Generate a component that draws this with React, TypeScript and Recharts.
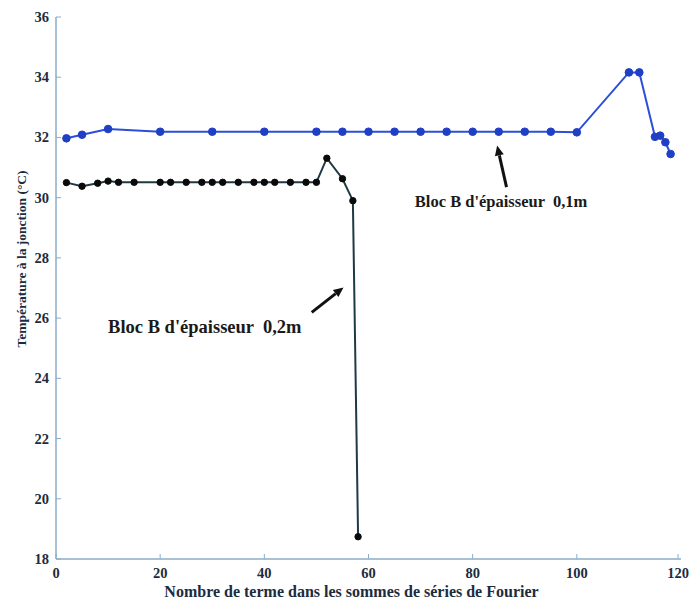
import React from 'react';
import { LineChart, Line, XAxis, YAxis, ReferenceLine, ReferenceDot } from 'recharts';

const xTicks = [0, 20, 40, 60, 80, 100, 120];
const yTicks = [18, 20, 22, 24, 26, 28, 30, 32, 34, 36];

// Bloc B d'épaisseur 0,1m (blue)
const thinX = [2, 5, 10, 20, 30, 40, 50, 55, 60, 65, 70, 75, 80, 85, 90, 95, 100, 110, 112, 115, 116, 117, 118];
const thinY = [31.97, 32.09, 32.28, 32.19, 32.19, 32.19, 32.19, 32.19, 32.19, 32.19, 32.19, 32.19, 32.19, 32.19, 32.19, 32.19, 32.17, 34.16, 34.16, 32.02, 32.06, 31.84, 31.45];

// Bloc B d'épaisseur 0,2m (black)
const thickX = [2, 5, 8, 10, 12, 15, 20, 22, 25, 28, 30, 32, 35, 38, 40, 42, 45, 48, 50, 52, 55, 57, 58];
const thickY = [30.5, 30.38, 30.48, 30.55, 30.51, 30.51, 30.51, 30.51, 30.51, 30.51, 30.51, 30.51, 30.51, 30.51, 30.51, 30.51, 30.51, 30.51, 30.51, 31.31, 30.63, 29.9, 18.74];

const thinLabel = "Bloc B d'épaisseur  0,1m";
const thickLabel = "Bloc B d'épaisseur  0,2m";
const xTitle = 'Nombre de terme dans les sommes de séries de Fourier';
const yTitle = 'Température à la jonction (°C)';

// annotation anchors (data coordinates)
const thinText = { x: 68.9, y: 29.7 };
const thinArrow = [{ x: 86.5, y: 30.35 }, { x: 84.7, y: 31.73 }];
const thickText = { x: 10.0, y: 25.5 };
const thickArrow = [{ x: 49.1, y: 26.19 }, { x: 55.2, y: 27.02 }];

const thinData = thinX.map((x, i) => ({ x, y: thinY[i] }));
const thickData = thickX.map((x, i) => ({ x, y: thickY[i] }));

const FONT = "'Liberation Serif', 'Times New Roman', serif";
const TXT = '#1c2c40';
const AXIS = '#8badc9';

const XTick = (p: any) => (
  <g>
    <line x1={p.x} y1={p.y} x2={p.x} y2={p.y - 5} stroke={AXIS} strokeWidth={1} />
    <text x={p.x} y={p.y + 19} textAnchor="middle" fontFamily={FONT} fontWeight="bold" fontSize={14.5} fill={TXT}>
      {p.payload.value}
    </text>
  </g>
);
const YTick = (p: any) => (
  <g>
    <line x1={p.x} y1={p.y} x2={p.x + 5} y2={p.y} stroke={AXIS} strokeWidth={1} />
    <text x={p.x - 7} y={p.y + 5} textAnchor="end" fontFamily={FONT} fontWeight="bold" fontSize={14.5} fill={TXT}>
      {p.payload.value}
    </text>
  </g>
);
const TopTick = (p: any) => (
  <line x1={p.x} y1={p.y} x2={p.x} y2={p.y + 5} stroke={AXIS} strokeWidth={1} />
);
const RightTick = (p: any) => (
  <line x1={p.x} y1={p.y} x2={p.x - 5} y2={p.y} stroke={AXIS} strokeWidth={1} />
);

const Arrow = (props: any) => {
  const { x1, y1, x2, y2 } = props;
  if ([x1, y1, x2, y2].some((v) => typeof v !== 'number')) return null;
  const ang = Math.atan2(y2 - y1, x2 - x1);
  const L = 10;
  const W = 4.5;
  const bx = x2 - L * Math.cos(ang);
  const by = y2 - L * Math.sin(ang);
  const px = -Math.sin(ang) * W;
  const py = Math.cos(ang) * W;
  return (
    <g>
      <line x1={x1} y1={y1} x2={bx} y2={by} stroke="#111" strokeWidth={3} />
      <polygon points={`${x2},${y2} ${bx + px},${by + py} ${bx - px},${by - py}`} fill="#111" />
    </g>
  );
};

const makeText = (label: string, size: number) => (p: any) => (
  <text
    x={p.cx}
    y={p.cy}
    fontFamily={FONT}
    fontWeight="bold"
    fontSize={size}
    fill="#1a1a1a"
    style={{ whiteSpace: 'pre' }}
  >
    {label}
  </text>
);

export default function App() {
  return (
    <div style={{ position: 'absolute', left: 0, top: 0, width: 690, height: 602, background: '#fff' }}>
      <LineChart
        width={690}
        height={602}
        margin={{ top: 17, right: 9, bottom: 13, left: 16 }}
      >
        <XAxis
          type="number"
          dataKey="x"
          domain={[0, 120]}
          ticks={xTicks}
          allowDataOverflow
          height={30}
          tickSize={0}
          tickMargin={0}
          tickLine={false}
          axisLine={{ stroke: AXIS, strokeWidth: 1.5 }}
          tick={<XTick />}
          label={{
            content: (lp: any) => {
              const vb = lp.viewBox || {};
              return (
                <text
                  x={vb.x + vb.width / 2 - 17}
                  y={vb.y + 38}
                  textAnchor="middle"
                  fontFamily={FONT}
                  fontWeight="bold"
                  fontSize={16}
                  fill={TXT}
                >
                  {xTitle}
                </text>
              );
            },
          }}
        />
        <XAxis
          xAxisId="top"
          orientation="top"
          type="number"
          domain={[0, 120]}
          ticks={xTicks}
          height={0}
          tickSize={0}
          tickMargin={0}
          tickLine={false}
          axisLine={{ stroke: AXIS, strokeWidth: 1.5 }}
          tick={<TopTick />}
        />
        <YAxis
          type="number"
          domain={[18, 36]}
          ticks={yTicks}
          allowDataOverflow
          width={40}
          tickSize={0}
          tickMargin={0}
          tickLine={false}
          axisLine={{ stroke: AXIS, strokeWidth: 1.5 }}
          tick={<YTick />}
          label={{
            content: (lp: any) => {
              const vb = lp.viewBox || {};
              const cx = vb.x + 5;
              const cy = vb.y + vb.height / 2 - 29;
              return (
                <text
                  transform={`translate(${cx},${cy}) rotate(-90)`}
                  textAnchor="middle"
                  dominantBaseline="central"
                  fontFamily={FONT}
                  fontWeight="bold"
                  fontSize={13.5}
                  fill={TXT}
                >
                  {yTitle}
                </text>
              );
            },
          }}
        />
        <YAxis
          yAxisId="right"
          orientation="right"
          type="number"
          domain={[18, 36]}
          ticks={yTicks}
          width={0}
          tickSize={0}
          tickMargin={0}
          tickLine={false}
          axisLine={{ stroke: AXIS, strokeWidth: 1.5 }}
          tick={<RightTick />}
        />
        <Line
          data={thinData}
          dataKey="y"
          type="linear"
          stroke="#2b4fd6"
          strokeWidth={2}
          dot={{ r: 3.8, fill: '#1f3fc4', stroke: '#1f3fc4', strokeWidth: 1 }}
          isAnimationActive={false}
        />
        <Line
          data={thickData}
          dataKey="y"
          type="linear"
          stroke="#1f3a44"
          strokeWidth={2}
          dot={{ r: 3.2, fill: '#0a0a0a', stroke: '#0a0a0a', strokeWidth: 1 }}
          isAnimationActive={false}
        />
        <ReferenceLine segment={thinArrow} shape={Arrow} ifOverflow="visible" />
        <ReferenceLine segment={thickArrow} shape={Arrow} ifOverflow="visible" />
        <ReferenceDot x={thinText.x} y={thinText.y} r={1} ifOverflow="visible" shape={makeText(thinLabel, 16.5)} />
        <ReferenceDot x={thickText.x} y={thickText.y} r={1} ifOverflow="visible" shape={makeText(thickLabel, 18.5)} />
      </LineChart>
    </div>
  );
}
